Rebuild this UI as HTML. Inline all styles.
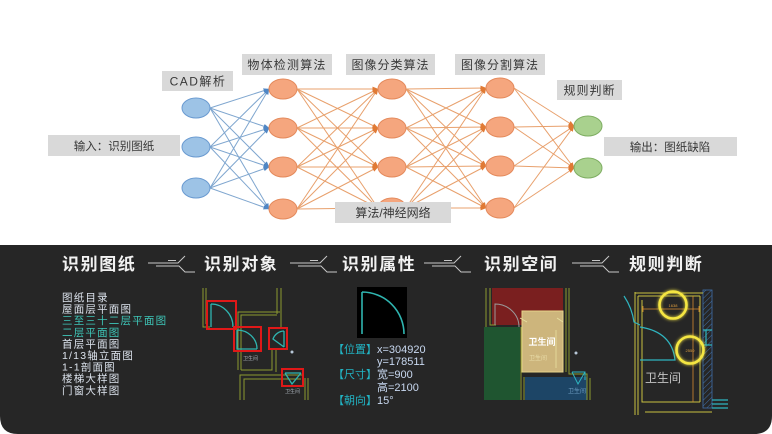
<!DOCTYPE html>
<html><head><meta charset="utf-8"><style>
html,body{margin:0;padding:0;background:#fff;width:772px;height:434px;overflow:hidden}
svg{display:block}
.t{font-family:"Liberation Sans","Noto Sans CJK SC",sans-serif}
</style></head><body>
<svg width="772" height="434" viewBox="0 0 772 434" xmlns="http://www.w3.org/2000/svg" class="t">
<defs>
<marker id="ab" markerWidth="6" markerHeight="6" refX="5.5" refY="3" orient="auto" markerUnits="userSpaceOnUse"><path d="M0,0.6 L6,3 L0,5.4z" fill="#4f86c4"/></marker>
<marker id="ao" markerWidth="6" markerHeight="6" refX="5.5" refY="3" orient="auto" markerUnits="userSpaceOnUse"><path d="M0,0.6 L6,3 L0,5.4z" fill="#e07a35"/></marker>
<filter id="glow" x="-50%" y="-50%" width="200%" height="200%"><feGaussianBlur stdDeviation="1.6" result="b"/><feMerge><feMergeNode in="b"/><feMergeNode in="SourceGraphic"/></feMerge></filter>
<pattern id="hatch" width="4" height="4" patternUnits="userSpaceOnUse" patternTransform="rotate(45)"><line x1="0" y1="0" x2="0" y2="4" stroke="#3f6fa8" stroke-width="1"/></pattern>
</defs>

<rect width="772" height="245" fill="#fff"/>

<!-- blue connectors -->
<g stroke="#7fa6cf" stroke-width="1" marker-end="url(#ab)">
<line x1="210" y1="108" x2="269" y2="89"/><line x1="210" y1="108" x2="269" y2="128"/><line x1="210" y1="108" x2="269" y2="167"/><line x1="210" y1="108" x2="269" y2="209"/>
<line x1="210" y1="147" x2="269" y2="89"/><line x1="210" y1="147" x2="269" y2="128"/><line x1="210" y1="147" x2="269" y2="167"/><line x1="210" y1="147" x2="269" y2="209"/>
<line x1="210" y1="188" x2="269" y2="89"/><line x1="210" y1="188" x2="269" y2="128"/><line x1="210" y1="188" x2="269" y2="167"/><line x1="210" y1="188" x2="269" y2="209"/>
</g>
<!-- orange connectors -->
<g stroke="#e8a06c" stroke-width="1" marker-end="url(#ao)">
<line x1="297" y1="89" x2="378" y2="89"/><line x1="297" y1="89" x2="378" y2="128"/><line x1="297" y1="89" x2="378" y2="167"/><line x1="297" y1="89" x2="378" y2="208"/>
<line x1="297" y1="128" x2="378" y2="89"/><line x1="297" y1="128" x2="378" y2="128"/><line x1="297" y1="128" x2="378" y2="167"/><line x1="297" y1="128" x2="378" y2="208"/>
<line x1="297" y1="167" x2="378" y2="89"/><line x1="297" y1="167" x2="378" y2="128"/><line x1="297" y1="167" x2="378" y2="167"/><line x1="297" y1="167" x2="378" y2="208"/>
<line x1="297" y1="209" x2="378" y2="89"/><line x1="297" y1="209" x2="378" y2="128"/><line x1="297" y1="209" x2="378" y2="167"/><line x1="297" y1="209" x2="378" y2="208"/>

<line x1="406" y1="89" x2="486" y2="88"/><line x1="406" y1="89" x2="486" y2="127"/><line x1="406" y1="89" x2="486" y2="166"/><line x1="406" y1="89" x2="486" y2="208"/>
<line x1="406" y1="128" x2="486" y2="88"/><line x1="406" y1="128" x2="486" y2="127"/><line x1="406" y1="128" x2="486" y2="166"/><line x1="406" y1="128" x2="486" y2="208"/>
<line x1="406" y1="167" x2="486" y2="88"/><line x1="406" y1="167" x2="486" y2="127"/><line x1="406" y1="167" x2="486" y2="166"/><line x1="406" y1="167" x2="486" y2="208"/>
<line x1="406" y1="208" x2="486" y2="88"/><line x1="406" y1="208" x2="486" y2="127"/><line x1="406" y1="208" x2="486" y2="166"/><line x1="406" y1="208" x2="486" y2="208"/>

<line x1="514" y1="88" x2="574" y2="126"/><line x1="514" y1="88" x2="574" y2="168"/>
<line x1="514" y1="127" x2="574" y2="126"/><line x1="514" y1="127" x2="574" y2="168"/>
<line x1="514" y1="166" x2="574" y2="126"/><line x1="514" y1="166" x2="574" y2="168"/>
<line x1="514" y1="208" x2="574" y2="126"/><line x1="514" y1="208" x2="574" y2="168"/>
</g>

<!-- nodes -->
<g fill="#9dc3e6" stroke="#6b9bd1" stroke-width="1">
<ellipse cx="196" cy="108" rx="14" ry="10"/><ellipse cx="196" cy="147" rx="14" ry="10"/><ellipse cx="196" cy="188" rx="14" ry="10"/>
</g>
<g fill="#f5a67e" stroke="#e48a5c" stroke-width="1">
<ellipse cx="283" cy="89" rx="14" ry="10"/><ellipse cx="283" cy="128" rx="14" ry="10"/><ellipse cx="283" cy="167" rx="14" ry="10"/><ellipse cx="283" cy="209" rx="14" ry="10"/>
<ellipse cx="392" cy="89" rx="14" ry="10"/><ellipse cx="392" cy="128" rx="14" ry="10"/><ellipse cx="392" cy="167" rx="14" ry="10"/><ellipse cx="392" cy="208" rx="14" ry="10"/>
<ellipse cx="500" cy="88" rx="14" ry="10"/><ellipse cx="500" cy="127" rx="14" ry="10"/><ellipse cx="500" cy="166" rx="14" ry="10"/><ellipse cx="500" cy="208" rx="14" ry="10"/>
</g>
<g fill="#a9d18e" stroke="#7fae63" stroke-width="1">
<ellipse cx="588" cy="126" rx="14" ry="10"/><ellipse cx="588" cy="168" rx="14" ry="10"/>
</g>

<!-- label boxes -->
<g fill="#d9d9d9">
<rect x="162" y="71" width="71" height="20"/>
<rect x="242" y="54" width="90" height="21"/>
<rect x="346" y="54" width="89" height="21"/>
<rect x="455" y="54" width="90" height="21"/>
<rect x="557" y="80" width="65" height="20"/>
<rect x="48" y="135" width="132" height="21"/>
<rect x="604" y="137" width="133" height="19"/>
<rect x="335" y="202" width="116" height="21"/>
</g>
<g fill="#383838" font-size="12" text-anchor="middle">
<text x="198" y="85.5" letter-spacing="1.5">CAD解析</text>
<text x="287" y="69" letter-spacing="1.2">物体检测算法</text>
<text x="390.5" y="69" letter-spacing="1">图像分类算法</text>
<text x="500" y="69" letter-spacing="1">图像分割算法</text>
<text x="589.5" y="94.5" letter-spacing="1">规则判断</text>
<text x="114" y="150" font-size="11.5">输入：识别图纸</text>
<text x="670" y="151" font-size="11.5">输出：图纸缺陷</text>
<text x="393" y="217" font-size="12">算法/神经网络</text>
</g>

<!-- dark panel -->
<path d="M0,245 H772 V416 Q772,434 754,434 H18 Q0,434 0,416 Z" fill="#262626"/>

<!-- headers -->
<g fill="#f2f2f2" font-size="17" font-weight="bold" letter-spacing="1.6">
<text x="62" y="270">识别图纸</text>
<text x="204" y="270">识别对象</text>
<text x="342" y="270">识别属性</text>
<text x="484" y="270">识别空间</text>
<text x="629" y="270">规则判断</text>
</g>
<!-- connector icons -->
<g fill="none" stroke="#c8c8c8" stroke-width="1">
<g transform="translate(148,255)"><path d="M0,8 H30 L37,1 M8,11 H31 L37,17 H47 M20,5.5 H28"/></g>
<g transform="translate(290,255)"><path d="M0,8 H30 L37,1 M8,11 H31 L37,17 H47 M20,5.5 H28"/></g>
<g transform="translate(424,255)"><path d="M0,8 H30 L37,1 M8,11 H31 L37,17 H47 M20,5.5 H28"/></g>
<g transform="translate(572,255)"><path d="M0,8 H30 L37,1 M8,11 H31 L37,17 H47 M20,5.5 H28"/></g>
</g>

<!-- list -->
<g font-size="10.5" letter-spacing="1.2" fill="#dde4ee">
<text x="62" y="301">图纸目录</text>
<text x="62" y="312.6">屋面层平面图</text>
<text x="62" y="324.2" fill="#3ec6b8">三至三十二层平面图</text>
<text x="62" y="335.8" fill="#3ec6b8">二层平面图</text>
<text x="62" y="347.4">首层平面图</text>
<text x="62" y="359">1/13轴立面图</text>
<text x="62" y="370.6">1-1剖面图</text>
<text x="62" y="382.2">楼梯大样图</text>
<text x="62" y="393.8">门窗大样图</text>
</g>

<!-- object panel -->
<g stroke="#8c9a30" stroke-width="1" fill="none">
<path d="M203,288 V327 H210 M206,288 V324"/>
<path d="M238,370 V312 H280 M241,370 V315 H277"/>
<path d="M277,288 V314 M281,288 V327"/>
<path d="M272,350 V370 H241 M276,350 V372"/>
<path d="M240,400 V375 H303 M244,400 V379 H301"/>
<path d="M305,378 V400 M308,378 V400"/>
</g>
<g stroke="#2fb5b0" stroke-width="1.3" fill="none">
<path d="M211,304 V327 M211,304 A22,23 0 0 1 233,327"/>
<path d="M237,330 V349 H257 M237,330 A20,19 0 0 1 257,349"/>
<path d="M284,331 V347 M284,331 A12,12 0 0 0 273,339 L284,347"/>
<path d="M285,373 H301 M285,373 L292,384 L301,373"/>
</g>
<g stroke="#e01818" stroke-width="2" fill="none">
<rect x="207" y="301" width="29" height="28"/>
<rect x="234" y="327" width="27" height="24"/>
<rect x="269" y="328" width="18" height="21"/>
<rect x="282" y="369" width="21" height="17"/>
</g>
<g fill="#a8b0b8" font-size="5">
<text x="243" y="360">卫生间</text>
<text x="285" y="393">卫生间</text>
</g>
<circle cx="292" cy="352" r="1.5" fill="#b8c8d8"/>

<!-- attribute panel -->
<rect x="357" y="287" width="50" height="51" fill="#000"/>
<path d="M362,292 V334 M362,292 A42,42 0 0 1 404,334" stroke="#2fb5b0" stroke-width="1.6" fill="none"/>
<g font-size="11" fill="#c8d8f0">
<text x="333" y="353"><tspan fill="#22b4c4">【位置】</tspan>x=304920</text>
<text x="377" y="365">y=178511</text>
<text x="333" y="378"><tspan fill="#22b4c4">【尺寸】</tspan>宽=900</text>
<text x="377" y="391">高=2100</text>
<text x="333" y="404"><tspan fill="#22b4c4">【朝向】</tspan>15°</text>
</g>

<!-- space panel -->
<rect x="492" y="288" width="71" height="37" fill="#7a1f1f"/>
<rect x="484" y="327" width="36" height="73" fill="#1f5530"/>
<rect x="525" y="377" width="62" height="23" fill="#1d4566"/>
<rect x="522" y="311" width="41" height="61" fill="#cdb57c" stroke="#e6d48a" stroke-width="1"/>
<g stroke="#8c9a30" stroke-width="1" fill="none">
<path d="M486,288 V327 M490,288 V325 H496"/>
<path d="M566,288 V372 M569,288 V374 H587 V400"/>
<path d="M521,327 V400 M524,377 V400"/>
<path d="M590,378 V400"/>
</g>
<path d="M495,325 V304 A24,23 0 0 1 519,327" stroke="#9a9a9a" stroke-width="1" fill="none"/>
<path d="M520,318 L527,322 M557,318 L563,322 M556,330 V368" stroke="#e8e0a0" stroke-width="0.8" fill="none"/>
<path d="M572,372 H585 V380 M572,372 L578,384 L585,372" stroke="#2fb5c0" stroke-width="1" fill="none"/>
<text x="542" y="345" font-size="9" font-weight="bold" fill="#fff" text-anchor="middle">卫生间</text>
<text x="538" y="360" font-size="6" fill="#e8dca8" text-anchor="middle">卫生间</text>
<text x="577" y="393" font-size="6" fill="#6a9ac0" text-anchor="middle">卫生间</text>
<circle cx="576" cy="353" r="1.5" fill="#b8c8d8"/>

<!-- rules panel -->
<rect x="703" y="290" width="9" height="118" fill="url(#hatch)" stroke="#3f6fa8" stroke-width="0.8"/>
<g stroke="#c8c040" stroke-width="1" fill="none">
<path d="M635,292 V415 M638,296 V415"/>
<path d="M635,293 H703 M638,296 H700"/>
<path d="M642,300 V402 H700 M700,296 V402"/>
<path d="M645,412 H712"/>
</g>
<g stroke="#d88a30" stroke-width="0.8" fill="none">
<path d="M642,309 H700 M643,306 V312 M699,306 V312"/>
<path d="M693,296 V402"/>
</g>
<g stroke="#2fb5c0" stroke-width="1.2" fill="none">
<path d="M624,296 Q632,308 634,322 L640,325"/>
<path d="M640,327 Q672,332 675,360 H640"/>
<path d="M703,330 H712 M703,345 H712 M706,330 V345"/>
<path d="M712,400 H728 M712,404 H728 M712,408 H728"/>
</g>
<text x="663" y="382" font-size="12" fill="#c4c4c4" text-anchor="middle">卫生间</text>
<g filter="url(#glow)" stroke="#f5e642" stroke-width="2.6" fill="none">
<circle cx="673" cy="305" r="13.5"/>
<circle cx="690" cy="350" r="13.5"/>
</g>
<text x="673" y="307" font-size="4" fill="#e0a040" text-anchor="middle">1638</text>
<text x="690" y="352" font-size="4" fill="#e0a040" text-anchor="middle">2550</text>
</svg>
</body></html>
